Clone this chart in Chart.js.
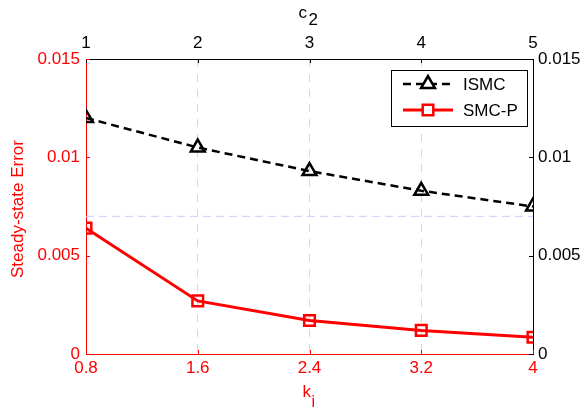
<!DOCTYPE html>
<html>
<head>
<meta charset="utf-8">
<script src="https://cdn.jsdelivr.net/npm/chart.js@4"></script>
<style>
  html, body { margin: 0; padding: 0; background: #fff; }
  #wrap { width: 582px; height: 407px; }
</style>
</head>
<body>
<div id="wrap"><canvas id="grafico" width="582" height="407"></canvas></div>
<script>
const kiValues = [0.8, 1.6, 2.4, 3.2, 4];
const c2Ticks = [1, 2, 3, 4, 5];
const yTicks = [0, 0.005, 0.01, 0.015];
const ismc = [0.0120, 0.0105, 0.0093, 0.0083, 0.0075];
const smcp = [0.0064, 0.0027, 0.0017, 0.0012, 0.00085];
const refLevel = [0.007, 0.007, 0.007, 0.007, 0.007];

const RED = '#ff0000';
const FONT = 'Liberation Sans, Arial, sans-serif';

const pts = arr => arr.map((v, i) => ({ x: kiValues[i], y: v }));

// ticks pointing into the plot, MATLAB style
const innerTicks = {
    id: 'innerTicks',
    afterDraw(chart) {
        const { ctx, chartArea: a, scales } = chart;
        const len = 4;
        ctx.save();
        ctx.lineWidth = 1;
        scales.x.ticks.forEach(t => {
            const px = Math.round(scales.x.getPixelForValue(t.value)) + 0.5;
            ctx.strokeStyle = RED;
            ctx.beginPath(); ctx.moveTo(px, a.bottom); ctx.lineTo(px, a.bottom - len); ctx.stroke();
        });
        scales.x2.ticks.forEach(t => {
            const px = Math.round(scales.x2.getPixelForValue(t.value)) + 0.5;
            ctx.strokeStyle = '#000';
            ctx.beginPath(); ctx.moveTo(px, a.top); ctx.lineTo(px, a.top + len); ctx.stroke();
        });
        scales.y.ticks.forEach(t => {
            const py = Math.round(scales.y.getPixelForValue(t.value)) + 0.5;
            ctx.strokeStyle = RED;
            ctx.beginPath(); ctx.moveTo(a.left, py); ctx.lineTo(a.left + len, py); ctx.stroke();
        });
        scales.y2.ticks.forEach(t => {
            const py = Math.round(scales.y2.getPixelForValue(t.value)) + 0.5;
            ctx.strokeStyle = '#000';
            ctx.beginPath(); ctx.moveTo(a.right, py); ctx.lineTo(a.right - len, py); ctx.stroke();
        });
        ctx.restore();
    }
};

// axis titles with subscripts
const axisTitles = {
    id: 'axisTitles',
    afterDraw(chart) {
        const { ctx, chartArea: a } = chart;
        const cx = (a.left + a.right) / 2;
        ctx.save();
        ctx.textBaseline = 'alphabetic';
        ctx.textAlign = 'left';

        ctx.fillStyle = RED;
        ctx.font = '17px ' + FONT;
        ctx.fillText('k', cx - 7, 397);
        ctx.font = '16px ' + FONT;
        ctx.fillText('i', cx + 2, 407);

        ctx.fillStyle = '#000';
        ctx.font = '17px ' + FONT;
        ctx.fillText('c', cx - 11, 18);
        ctx.fillText('2', cx - 1, 25);

        ctx.fillStyle = RED;
        ctx.textAlign = 'center';
        ctx.translate(23, (a.top + a.bottom) / 2 + 2.5);
        ctx.rotate(-Math.PI / 2);
        ctx.fillText('Steady-state Error', 0, 0);
        ctx.restore();
    }
};

// boxed legend inside the plot, upper right
const boxLegend = {
    id: 'boxLegend',
    afterDraw(chart) {
        const { ctx, chartArea: a } = chart;
        const w = 136, h = 56;
        const x0 = a.right - 6 - w, y0 = a.top + 11;
        ctx.save();
        ctx.fillStyle = '#fff';
        ctx.fillRect(x0, y0, w, h);
        ctx.strokeStyle = '#000';
        ctx.lineWidth = 1;
        ctx.strokeRect(Math.round(x0) + 0.5, Math.round(y0) + 0.5, w, h);

        const rows = [chart.data.datasets[0], chart.data.datasets[1]];
        rows.forEach((ds, i) => {
            const y = y0 + 14 + i * 26;
            ctx.strokeStyle = ds.borderColor;
            ctx.lineWidth = ds.borderWidth;
            ctx.setLineDash(ds.borderDash || []);
            ctx.beginPath(); ctx.moveTo(x0 + 12, y); ctx.lineTo(x0 + 62, y); ctx.stroke();
            ctx.setLineDash([]);
            ctx.fillStyle = '#fff';
            ctx.strokeStyle = ds.pointBorderColor;
            ctx.lineWidth = ds.pointBorderWidth;
            Chart.helpers.drawPoint(ctx, {
                pointStyle: ds.pointStyle, radius: ds.pointRadius,
                borderWidth: ds.pointBorderWidth, rotation: 0
            }, x0 + 37, y);
            ctx.fillStyle = '#000';
            ctx.font = '17px ' + FONT;
            ctx.textAlign = 'left';
            ctx.textBaseline = 'middle';
            ctx.fillText(ds.label, x0 + 72, y + 1);
        });
        ctx.restore();
    }
};

const tickFont = { family: FONT, size: 17 };

new Chart(document.getElementById('grafico'), {
    type: 'line',
    data: {
        datasets: [{
            label: 'ISMC',
            data: pts(ismc),
            borderColor: '#000',
            borderWidth: 2.5,
            borderDash: [8, 5],
            pointStyle: 'triangle',
            pointRadius: 8,
            pointBorderWidth: 2.5,
            pointBackgroundColor: 'rgba(0,0,0,0)',
            pointBorderColor: '#000',
            xAxisID: 'x', yAxisID: 'y'
        }, {
            label: 'SMC-P',
            data: pts(smcp),
            borderColor: RED,
            borderWidth: 3,
            pointStyle: 'rect',
            pointRadius: 7.5,
            pointBorderWidth: 2.5,
            pointBackgroundColor: 'rgba(0,0,0,0)',
            pointBorderColor: RED,
            xAxisID: 'x', yAxisID: 'y'
        }, {
            label: 'ref',
            data: pts(refLevel),
            borderColor: '#ccccff',
            borderWidth: 1,
            borderDash: [8, 5],
            pointRadius: 0,
            xAxisID: 'x', yAxisID: 'y',
            order: 5
        }]
    },
    options: {
        responsive: false,
        animation: false,
        layout: { padding: 0 },
        plugins: { legend: { display: false }, tooltip: { enabled: false } },
        scales: {
            x: {
                type: 'linear', position: 'bottom', min: 0.8, max: 4,
                afterBuildTicks: s => { s.ticks = kiValues.map(v => ({ value: v })); },
                afterFit: s => { s.height = 53; },
                ticks: { color: RED, font: tickFont, padding: 4, callback: v => String(v) },
                grid: { drawTicks: false, color: '#f8c8cc', lineWidth: 1 },
                border: { color: RED, width: 1, dash: [8, 7] }
            },
            x2: {
                type: 'linear', position: 'top', min: 1, max: 5,
                afterBuildTicks: s => { s.ticks = c2Ticks.map(v => ({ value: v })); },
                afterFit: s => { s.height = 59; },
                ticks: { color: '#000', font: tickFont, padding: 5, callback: v => String(v) },
                grid: { display: false, drawTicks: false },
                border: { color: '#000', width: 1 }
            },
            y: {
                type: 'linear', position: 'left', min: 0, max: 0.015,
                afterBuildTicks: s => { s.ticks = yTicks.map(v => ({ value: v })); },
                afterFit: s => { s.width = 86; },
                ticks: { color: RED, font: tickFont, padding: 6, callback: v => String(v) },
                grid: { display: false, drawTicks: false },
                border: { color: RED, width: 1 }
            },
            y2: {
                type: 'linear', position: 'right', min: 0, max: 0.015,
                afterBuildTicks: s => { s.ticks = yTicks.map(v => ({ value: v })); },
                afterFit: s => { s.width = 49; },
                ticks: { color: '#000', font: tickFont, padding: 5, callback: v => String(v) },
                grid: { display: false, drawTicks: false },
                border: { color: '#000', width: 1 }
            }
        }
    },
    plugins: [innerTicks, axisTitles, boxLegend]
});
</script>
</body>
</html>
